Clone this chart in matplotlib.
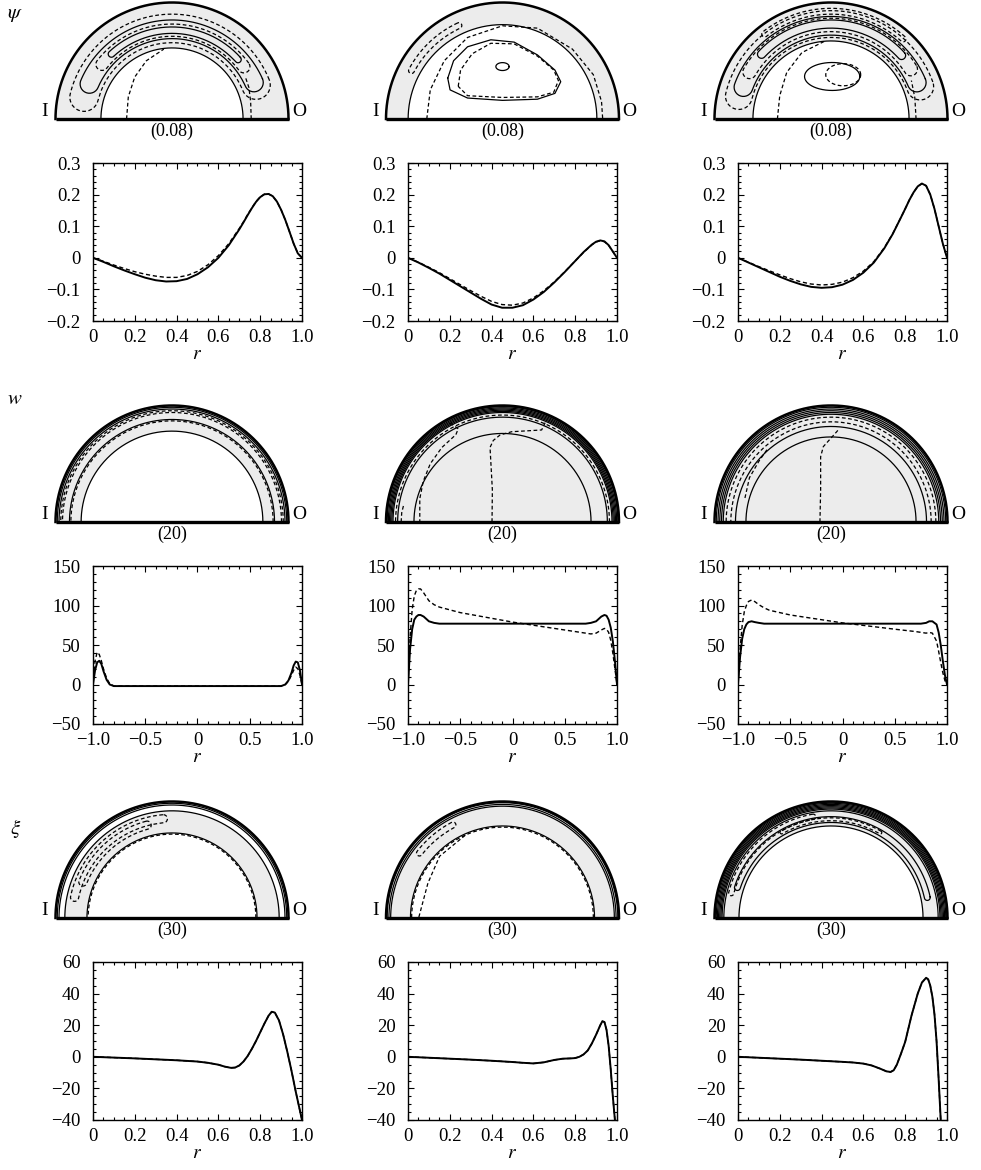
import numpy as np
import matplotlib.pyplot as plt
from matplotlib.ticker import MultipleLocator, FuncFormatter

plt.rcParams['font.family'] = ['Liberation Serif', 'DejaVu Serif']
plt.rcParams['mathtext.fontset'] = 'stix'
plt.rcParams['font.size'] = 13

# ---------------- line-plot data ----------------
# psi profiles, r from 0 to 1
psi_r = [
    [0, .05, .1, .15, .2, .25, .3, .35, .4, .45, .5, .55, .6, .65, .7, .72, .74, .76, .78, .8, .82, .84,
     .86, .88, .9, .92, .94, .96, .98, 1.0],
    [0, .05, .1, .15, .2, .25, .3, .35, .4, .45, .5, .55, .6, .65, .7, .75, .8, .84, .88, .9, .92, .94,
     .96, .98, 1.0],
    [0, .05, .1, .15, .2, .25, .3, .35, .4, .45, .5, .55, .6, .65, .7, .74, .78, .8, .82, .84, .86, .88,
     .9, .92, .94, .96, .98, 1.0],
]
psi_solid = [
    [0, -.013, -.027, -.04, -.052, -.063, -.071, -.075, -.074, -.067, -.052, -.03, .0, .04, .09, .112,
     .135, .157, .177, .192, .201, .202, .195, .178, .152, .12, .083, .045, .014, 0],
    [0, -.015, -.032, -.05, -.07, -.09, -.11, -.13, -.148, -.158, -.158, -.15, -.132, -.108, -.078,
     -.045, -.01, .018, .042, .051, .055, .052, .04, .02, 0],
    [0, -.015, -.03, -.045, -.06, -.073, -.084, -.092, -.095, -.093, -.085, -.07, -.047, -.015, .03,
     .075, .128, .155, .183, .207, .226, .235, .228, .2, .155, .1, .045, 0],
]
psi_dashed = [
    [0, -.011, -.023, -.034, -.044, -.052, -.058, -.062, -.062, -.056, -.043, -.022, .007, .045, .093,
     .114, .137, .158, .178, .193, .201, .202, .195, .178, .152, .12, .083, .045, .014, 0],
    [0, -.014, -.03, -.047, -.066, -.085, -.104, -.122, -.138, -.148, -.15, -.143, -.127, -.104, -.076,
     -.044, -.01, .017, .041, .05, .054, .051, .039, .02, 0],
    [0, -.014, -.028, -.041, -.054, -.066, -.076, -.083, -.086, -.084, -.077, -.063, -.042, -.012, .032,
     .076, .128, .155, .183, .207, .226, .235, .228, .2, .155, .1, .045, 0],
]

# w profiles, r from -1 to 1
w_r = [
    [-1, -.98, -.96, -.94, -.92, -.9, -.87, -.84, -.8, -.7, -.5, 0, .5, .7, .8, .84, .87, .9, .92, .94,
     .96, .98, 1],
    [-1, -.98, -.96, -.94, -.92, -.9, -.88, -.85, -.8, -.75, -.7, -.5, 0, .5, .7, .75, .8, .85, .88, .9,
     .92, .94, .96, .98, 1],
    [-1, -.98, -.96, -.94, -.92, -.9, -.87, -.84, -.8, -.75, -.7, -.5, 0, .5, .7, .75, .8, .83, .86, .9,
     .92, .94, .96, .98, 1],
]
w_solid = [
    [0, 18, 28, 30, 26, 17, 6, 0, -2, -2, -2, -2, -2, -2, -2, 0, 5, 15, 24, 29, 28, 18, 0],
    [0, 45, 70, 82, 86, 88, 88, 86, 80, 78, 77, 77, 77, 77, 77, 78, 80, 86, 88, 87, 82, 72, 55, 30, 0],
    [0, 35, 58, 70, 76, 79, 80, 79, 78, 77, 77, 77, 77, 77, 77, 77, 78, 80, 80, 76, 66, 50, 30, 12, 0],
]
w_dashed = [
    [0, 30, 41, 38, 30, 20, 8, 1, -2, -2, -2, -2, -2, -2, -2, 0, 4, 12, 18, 22, 20, 12, 0],
    [0, 60, 95, 112, 119, 121, 121, 116, 106, 101, 98, 91, 79, 69, 65, 64, 65, 69, 71, 70, 66, 56, 40,
     20, 0],
    [0, 45, 75, 92, 100, 105, 107, 105, 101, 97, 94, 88, 78, 70, 67, 66, 65, 66, 65, 55, 42, 28, 15, 5, 0],
]

# xi profiles, r from 0 to 1
xi_r = [
    [0, .1, .2, .3, .4, .5, .55, .6, .63, .66, .68, .7, .72, .74, .76, .78, .8, .82, .84, .855, .87, .89,
     .91, .93, .95, .97, .99, 1.0],
    [0, .1, .2, .3, .4, .5, .55, .6, .65, .7, .74, .78, .8, .82, .84, .86, .88, .9, .92, .93, .94, .95,
     .96, .97, .98, .99],
    [0, .1, .2, .3, .4, .5, .55, .6, .64, .68, .71, .73, .745, .76, .78, .8, .83, .86, .88, .9, .91, .92,
     .93, .94, .95, .96, .97],
]
xi_solid = [
    [0, -.5, -1, -1.6, -2.2, -3, -3.8, -5, -6.2, -7, -6.8, -5.5, -3, .5, 5, 10, 15.5, 21, 26, 28.5, 28,
     23, 14, 3, -9, -22, -34, -40],
    [0, -.6, -1.2, -1.8, -2.5, -3.3, -3.8, -4.2, -3.5, -2, -1.2, -1, -.8, 0, 1.5, 4, 8.5, 14, 20, 22.5,
     22, 17, 7, -8, -25, -40],
    [0, -.6, -1.2, -1.8, -2.5, -3.2, -3.6, -4.3, -5.5, -7.5, -9.2, -9.6, -8.5, -5, 2, 9.5, 26, 40, 47,
     50, 49, 45, 38, 27, 10, -14, -40],
]
xi_dashed = xi_solid

# ---------------- contour sketch data (unit semicircle coords) ----------------
panel_labels = ['(0.08)', '(20)', '(30)']
# inner radius of the grey annulus (0 = fully shaded)
psi_shade = [0.61, 0.81, 0.67]
w_shade = [0.78, 0.0, 0.0]
xi_shade = [0.73, 0.79, 0.79]
xi_shade_out = [0.92, 0.955, 0.92]

psi_arcs = [[(0.61, '-')], [(0.81, '-')], [(0.67, '-')]]
w_arcs = [
    [(0.985, '-'), (0.97, '-'), (0.955, '--'), (0.94, '--'), (0.88, '-'), (0.868, '--'), (0.78, '-')],
    [(0.99, '-'), (0.98, '-'), (0.97, '-'), (0.96, '-'), (0.95, '-'), (0.94, '-'), (0.918, '--'),
     (0.90, '-'), (0.76, '-')],
    [(0.985, '-'), (0.97, '-'), (0.955, '-'), (0.94, '-'), (0.925, '-'), (0.90, '--'), (0.86, '--'),
     (0.82, '-'), (0.73, '-')],
]
xi_arcs = [
    [(0.985, '-'), (0.97, '-'), (0.92, '-'), (0.73, '-'), (0.72, '--')],
    [(0.99, '-'), (0.975, '-'), (0.96, '-'), (0.79, '-'), (0.78, '--')],
    [(0.995, '-'), (0.985, '-'), (0.975, '-'), (0.965, '-'), (0.955, '-'), (0.945, '-'),
     (0.935, '-'), (0.92, '-'), (0.79, '-')],
]

# bands: (theta_start, theta_end, r_outer, r_inner, linestyle)
psi_bands = [
    [(24, 157, 0.85, 0.69, '-'), (42, 133, 0.79, 0.735, '-'),
     (36, 142, 0.815, 0.71, '--'), (22, 166, 0.90, 0.655, '--')],
    [(115, 152, 0.91, 0.86, '--')],
    [(23, 160, 0.88, 0.72, '-'), (42, 137, 0.85, 0.78, '-'),
     (32, 150, 0.865, 0.75, '--'), (20, 166, 0.93, 0.70, '--'), (48, 128, 0.95, 0.90, '--')],
]
w_bands = [[], [], []]
xi_bands = [
    [(95, 168, 0.89, 0.82, '--'), (105, 158, 0.86, 0.79, '--')],
    [(118, 142, 0.93, 0.88, '--')],
    [(12, 162, 0.87, 0.82, '-'), (100, 166, 0.905, 0.86, '--'), (60, 120, 0.86, 0.835, '--')],
]

# ellipses: (cx, cy, a, b, linestyle)
psi_ellipses = [[], [(0.0, 0.45, 0.057, 0.034, '-')],
                [(0.01, 0.365, 0.237, 0.12, '-'), (0.105, 0.38, 0.15, 0.095, '--')]]

# free curves: (x list, y list, linestyle)
psi_curves = [
    [([-0.39, -0.375, -0.32, -0.22, -0.07], [0, 0.19, 0.36, 0.5, 0.6], '--'),
     ([0.68, 0.675, 0.66, 0.63], [0, 0.15, 0.27, 0.36], '--')],
    [([-0.47, -0.42, -0.3, -0.1, 0.1, 0.3, 0.45, 0.5, 0.45, 0.3, 0.0, -0.3, -0.45, -0.47],
      [0.35, 0.5, 0.62, 0.68, 0.66, 0.55, 0.42, 0.32, 0.22, 0.17, 0.16, 0.18, 0.25, 0.35], '-'),
     ([-0.38, -0.36, -0.26, -0.1, 0.1, 0.3, 0.44, 0.48, 0.44, 0.3, 0.0, -0.3, -0.38],
      [0.28, 0.42, 0.56, 0.65, 0.645, 0.54, 0.42, 0.33, 0.23, 0.19, 0.185, 0.2, 0.28], '--'),
     ([-0.65, -0.62, -0.5, -0.3, 0.0, 0.3, 0.6, 0.78, 0.85, 0.86],
      [0, 0.25, 0.5, 0.7, 0.8, 0.78, 0.6, 0.38, 0.15, 0], '--')],
    [([-0.46, -0.44, -0.38, -0.25, -0.05], [0, 0.2, 0.4, 0.57, 0.67], '--'),
     ([0.73, 0.72, 0.69], [0, 0.18, 0.33], '--')],
]
w_curves = [
    [],
    [([-0.09, -0.087, -0.107, -0.079, -0.021, 0.079, 0.236, 0.336, 0.35, 0.37],
      [0, 0.275, 0.64, 0.70, 0.747, 0.775, 0.784, 0.79, 0.82, 0.86], '--'),
     ([-0.45, -0.38, -0.40, -0.52, -0.62, -0.68, -0.71, -0.71],
      [0.85, 0.80, 0.75, 0.64, 0.50, 0.35, 0.2, 0], '--'),
     ([-0.87, -0.865, -0.85], [0, 0.08, 0.14], '--')],
    [([-0.095, -0.089, -0.089, -0.066, 0.006, 0.049, 0.07],
      [0, 0.275, 0.56, 0.647, 0.727, 0.775, 0.80], '--'),
     ([-0.55, -0.62, -0.70, -0.74], [0.62, 0.52, 0.38, 0.2], '--')],
]
xi_curves = [
    [],
    [([-0.32, -0.43, -0.54, -0.64, -0.72], [0.71, 0.62, 0.53, 0.3, 0], '--')],
    [],
]

# ---------------- layout (pixels) ----------------
W, H = 981, 1170
R = 116.5
semi_cx = [172, 502.5, 831]
semi_base = [119, 522, 918]
plot_left = [93, 408, 738]
plot_top = [163, 566, 962]
plot_w, plot_h = 209, 158

fig = plt.figure(figsize=(W / 100, H / 100), dpi=100)


def px_axes(left, top, w, h):
    return fig.add_axes([left / W, 1 - (top + h) / H, w / W, h / H])


th_full = np.linspace(0, np.pi, 300)


def line_kw(ls):
    if ls == '--':
        return dict(color='k', lw=0.9, dashes=(3, 2))
    return dict(color='k', lw=0.9)


def draw_band(ax, t0, t1, ro, ri, ls):
    a0, a1 = np.radians(t0), np.radians(t1)
    th = np.linspace(a0, a1, 120)
    h = (ro - ri) / 2
    rm = (ro + ri) / 2
    cap = np.linspace(0, np.pi, 30)
    u1 = np.array([np.cos(a1), np.sin(a1)])
    t1v = np.array([-np.sin(a1), np.cos(a1)])
    u0 = np.array([np.cos(a0), np.sin(a0)])
    t0v = np.array([-np.sin(a0), np.cos(a0)])
    xs = list(ro * np.cos(th))
    ys = list(ro * np.sin(th))
    c1 = rm * u1
    xs += list(c1[0] + h * (np.cos(cap) * u1[0] + np.sin(cap) * t1v[0]))
    ys += list(c1[1] + h * (np.cos(cap) * u1[1] + np.sin(cap) * t1v[1]))
    xs += list(ri * np.cos(th[::-1]))
    ys += list(ri * np.sin(th[::-1]))
    c0 = rm * u0
    cap0 = cap[::-1]
    xs += list(c0[0] + h * (np.cos(cap0) * u0[0] - np.sin(cap0) * t0v[0]))
    ys += list(c0[1] + h * (np.cos(cap0) * u0[1] - np.sin(cap0) * t0v[1]))
    ax.plot(xs, ys, **line_kw(ls))


def draw_semi(col, row, shade_in, shade_out, arcs, bands, ellipses, curves, label):
    ax = px_axes(semi_cx[col] - R, semi_base[row] - R, 2 * R, R)
    ax.set_xlim(-1, 1)
    ax.set_ylim(0, 1)
    ax.axis('off')
    # grey annulus
    xo, yo = shade_out * np.cos(th_full), shade_out * np.sin(th_full)
    xi, yi = shade_in * np.cos(th_full[::-1]), shade_in * np.sin(th_full[::-1])
    ax.fill(np.r_[xo, xi], np.r_[yo, yi], color='#ececec', lw=0)
    for r, ls in arcs:
        ax.plot(r * np.cos(th_full), r * np.sin(th_full), clip_on=False, **line_kw(ls))
    for b in bands:
        draw_band(ax, *b)
    for cx, cy, a, b, ls in ellipses:
        ax.plot(cx + a * np.cos(2 * th_full), cy + b * np.sin(2 * th_full), **line_kw(ls))
    for xs, ys, ls in curves:
        ax.plot(xs, ys, **line_kw(ls))
    # outer boundary and base
    ax.plot(np.cos(th_full), np.sin(th_full), color='k', lw=1.8, clip_on=False)
    ax.plot([-1, 1], [0, 0], color='k', lw=2.4, clip_on=False, solid_capstyle='butt')
    ax.text(-1.09, -0.01, 'I', ha='center', va='bottom', fontsize=14)
    ax.text(1.09, -0.01, 'O', ha='center', va='bottom', fontsize=14)
    ax.text(0, -0.105, label, ha='center', va='center', fontsize=13)


def fmt(v, pos):
    if abs(v) < 1e-9:
        return '0'
    if abs(v) < 5:
        s = '%.1f' % v
    else:
        s = '%d' % v
    return s.replace('-', '\u2212')


def draw_plot(col, row, xs, ys_s, ys_d, xlim, ylim, xmaj, xmin, ymaj, ymin):
    ax = px_axes(plot_left[col], plot_top[row], plot_w, plot_h)
    ax.plot(xs, ys_d, color='k', lw=1.0, dashes=(3, 2))
    ax.plot(xs, ys_s, color='k', lw=1.4)
    ax.set_xlim(*xlim)
    ax.set_ylim(*ylim)
    ax.xaxis.set_major_locator(MultipleLocator(xmaj))
    ax.xaxis.set_minor_locator(MultipleLocator(xmin))
    ax.yaxis.set_major_locator(MultipleLocator(ymaj))
    ax.yaxis.set_minor_locator(MultipleLocator(ymin))
    ax.xaxis.set_major_formatter(FuncFormatter(fmt))
    ax.yaxis.set_major_formatter(FuncFormatter(fmt))
    ax.tick_params(which='both', direction='in', top=True, right=True, width=0.8, labelsize=13.5)
    ax.tick_params(which='major', length=4)
    ax.tick_params(which='minor', length=2)
    ax.tick_params(axis='x', pad=6)
    ax.tick_params(axis='y', pad=9)
    for s in ax.spines.values():
        s.set_linewidth(1.0)
    ax.set_xlabel('$r$', fontsize=14, labelpad=0)
    return ax


for c in range(3):
    draw_semi(c, 0, psi_shade[c], 1.0, psi_arcs[c], psi_bands[c], psi_ellipses[c], psi_curves[c],
              panel_labels[0])
    draw_plot(c, 0, psi_r[c], psi_solid[c], psi_dashed[c], (0, 1), (-0.2, 0.3), 0.2, 0.05, 0.1, 0.02)
    draw_semi(c, 1, w_shade[c], 1.0, w_arcs[c], w_bands[c], [], w_curves[c], panel_labels[1])
    draw_plot(c, 1, w_r[c], w_solid[c], w_dashed[c], (-1, 1), (-50, 150), 0.5, 0.1, 50, 10)
    draw_semi(c, 2, xi_shade[c], xi_shade_out[c], xi_arcs[c], xi_bands[c], [], xi_curves[c],
              panel_labels[2])
    draw_plot(c, 2, xi_r[c], xi_solid[c], xi_dashed[c], (0, 1), (-40, 60), 0.2, 0.05, 20, 5)

fig.text(15 / W, 1 - 14 / H, r'$\psi$', fontsize=15, ha='center', va='center')
fig.text(15 / W, 1 - 400 / H, r'$w$', fontsize=15, ha='center', va='center')
fig.text(16 / W, 1 - 829 / H, r'$\xi$', fontsize=15, ha='center', va='center')

fig.savefig('out.png', dpi=100)
